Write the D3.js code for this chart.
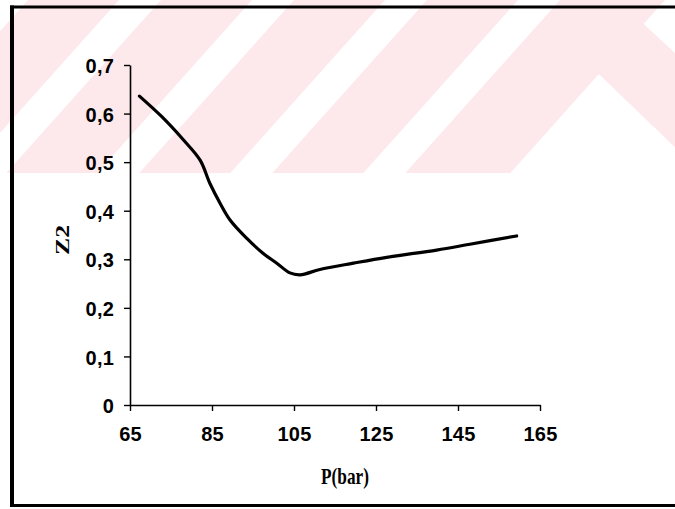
<!DOCTYPE html>
<html>
<head>
<meta charset="utf-8">
<script src="https://cdn.jsdelivr.net/npm/d3@7"></script>
<style>
  html, body { margin: 0; padding: 0; background: #fff; }
  svg { display: block; }
  .tick text { font-family: "Liberation Sans", Arial, sans-serif; font-weight: bold; font-size: 20px; letter-spacing: 0.2px; fill: #000; }
</style>
</head>
<body>
<svg id="chart" width="675" height="509"></svg>
<script>
// ---- data ----
const pressure = [67.3, 72.7, 78.0, 82.1, 84.5, 87.0, 89.4, 93.5, 97.5, 100.8, 104.0, 106.5, 111.3, 119.5, 127.6, 139.8, 147.9, 159.3];
const z2       = [0.636, 0.594, 0.546, 0.504, 0.456, 0.415, 0.381, 0.343, 0.312, 0.292, 0.272, 0.268, 0.279, 0.292, 0.304, 0.319, 0.331, 0.348];
const xTicks = [65, 85, 105, 125, 145, 165];
const yTicks = [0, 0.1, 0.2, 0.3, 0.4, 0.5, 0.6, 0.7];
const xTitle = "P(bar)";
const yTitle = "Z2";

const svg = d3.select("#chart");
const W = 675, H = 509;

// ---- background watermark (light pink band with white diagonal stripes) ----
const wm = svg.append("g");
const bandH = 173;
wm.append("rect").attr("x", 0).attr("y", 0).attr("width", W).attr("height", bandH).attr("fill", "#fde8ec");
const slope = 0.894, sw = 42;
[-14, 119, 252, 385, 518].forEach(x0 => {
  wm.append("polygon")
    .attr("points", [[x0, 0], [x0 + sw, 0], [x0 + sw - slope * bandH, bandH], [x0 - slope * bandH, bandH]].map(p => p.join(",")).join(" "))
    .attr("fill", "#fff");
});
wm.append("polygon").attr("points", "665,0 643.5,24 675,52.9 675,0").attr("fill", "#fff");
wm.append("polygon").attr("points", "598.8,74 510.3,173 675,173 675,147.2").attr("fill", "#fff");

// ---- frame ----
const frame = svg.append("g").attr("stroke", "#000");
frame.append("line").attr("x1", 10).attr("x2", W).attr("y1", 7).attr("y2", 7).attr("stroke-width", 3);
frame.append("line").attr("x1", 12).attr("x2", 12).attr("y1", 5.5).attr("y2", 506).attr("stroke-width", 4);
frame.append("line").attr("x1", 10).attr("x2", W).attr("y1", 505.5).attr("y2", 505.5).attr("stroke-width", 3);

// ---- scales ----
const x = d3.scaleLinear().domain([65, 165]).range([130, 540]);
const y = d3.scaleLinear().domain([0, 0.7]).range([405, 65]);

const fmt = v => v === 0 ? "0" : d3.format(".1f")(v).replace(".", ",");

const xAxis = svg.append("g").attr("transform", "translate(0,405)")
  .call(d3.axisBottom(x).tickValues(xTicks).tickSize(6).tickSizeOuter(0).tickPadding(8));
const yAxis = svg.append("g").attr("transform", "translate(130,0)")
  .call(d3.axisLeft(y).tickValues(yTicks).tickFormat(fmt).tickSize(6).tickSizeOuter(0).tickPadding(10));
[xAxis, yAxis].forEach(a => {
  a.select(".domain").attr("stroke", "#000").attr("stroke-width", 1.6);
  a.selectAll(".tick line").attr("stroke", "#000").attr("stroke-width", 1.4);
});
xAxis.selectAll(".tick text").attr("dy", "1.1em");
yAxis.selectAll(".tick text").attr("dy", "0.38em");

// ---- curve ----
const line = d3.line()
  .x((d, i) => x(pressure[i]))
  .y(d => y(d))
  .curve(d3.curveCatmullRom.alpha(0.5));
svg.append("path")
  .datum(z2)
  .attr("d", line)
  .attr("fill", "none")
  .attr("stroke", "#000")
  .attr("stroke-width", 3.2)
  .attr("stroke-linecap", "round")
  .attr("stroke-linejoin", "round");

// ---- titles ----
svg.append("text")
  .attr("x", 345).attr("y", 484)
  .attr("text-anchor", "middle")
  .attr("font-family", "'Liberation Serif', 'Times New Roman', serif")
  .attr("font-weight", "bold")
  .attr("font-size", 24)
  .attr("textLength", 48).attr("lengthAdjust", "spacingAndGlyphs")
  .text(xTitle);
svg.append("text")
  .attr("transform", "translate(69,240) rotate(-90)")
  .attr("text-anchor", "middle")
  .attr("font-family", "'Liberation Serif', 'Times New Roman', serif")
  .attr("font-weight", "bold")
  .attr("font-size", 19)
  .attr("textLength", 30).attr("lengthAdjust", "spacingAndGlyphs")
  .text(yTitle);
</script>
</body>
</html>
